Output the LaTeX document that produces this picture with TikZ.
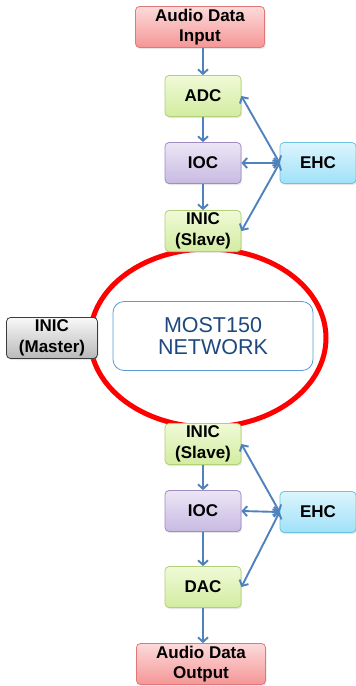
\documentclass[tikz,border=0pt]{standalone}
\usepackage{fontspec}
\setmainfont{Liberation Sans}
\usetikzlibrary{shadows,arrows.meta,shapes.geometric}
\definecolor{linkblue}{RGB}{79,129,189}
\definecolor{netblue}{RGB}{31,73,125}

\begin{document}
\begin{tikzpicture}[x=1pt,y=-1pt,
    box/.style={
      draw, rounded corners=4pt, line width=0.8pt,
      minimum width=76pt, minimum height=41pt, inner sep=0pt,
      align=center, font=\bfseries\fontsize{17}{20.5}\selectfont,
      drop shadow={opacity=0.2, shadow xshift=1pt, shadow yshift=-1.5pt},
    },
    audiobox/.style={box, minimum width=129pt, draw={rgb,255:red,225;green,120;blue,120},
      top color={rgb,255:red,252;green,218;blue,218}, bottom color={rgb,255:red,245;green,150;blue,150}},
    convbox/.style={box, draw={rgb,255:red,178;green,208;blue,120},
      top color={rgb,255:red,240;green,250;blue,215}, bottom color={rgb,255:red,210;green,236;blue,160}},
    iocbox/.style={box, draw={rgb,255:red,160;green,140;blue,195},
      top color={rgb,255:red,236;green,230;blue,246}, bottom color={rgb,255:red,200;green,186;blue,226}},
    ehcbox/.style={box, draw={rgb,255:red,110;green,195;blue,225},
      top color={rgb,255:red,220;green,245;blue,253}, bottom color={rgb,255:red,160;green,225;blue,248}},
    masterbox/.style={box, minimum width=91pt, draw={rgb,255:red,60;green,60;blue,60},
      top color={rgb,255:red,248;green,248;blue,248}, bottom color={rgb,255:red,185;green,185;blue,185}},
    link/.style={draw=linkblue, line width=1.9pt, -{Straight Barb[length=4.5pt,width=10pt]}},
    both/.style={link, {Straight Barb[length=4.5pt,width=10pt]}-{Straight Barb[length=4.5pt,width=10pt]}},
  ]
  \useasboundingbox (0,0) rectangle (356,686);

  % MOST150 ring
  \node[ellipse, draw=red, line width=5pt, minimum width=236pt, minimum height=178pt] (ring) at (208,338) {};
  \node[draw={rgb,255:red,91;green,155;blue,213}, line width=0.8pt, rounded corners=11pt, fill=white,
    minimum width=200pt, minimum height=69pt, align=center, text=netblue,
    font=\fontsize{21.5}{22.5}\selectfont] (net) at (213,336) {MOST150\\NETWORK};

  % source side
  \node[audiobox] (in) at (200,27) {Audio Data\\Input};
  \node[convbox] (adc) at (203,96) {ADC};
  \node[iocbox] (ioc1) at (203,163) {IOC};
  \node[convbox] (slave1) at (203,231) {INIC\\(Slave)};
  \node[ehcbox] (ehc1) at (318,163) {EHC};

  % master
  \node[masterbox] (master) at (52,338) {INIC\\(Master)};

  % sink side
  \node[convbox] (slave2) at (203,444) {INIC\\(Slave)};
  \node[iocbox] (ioc2) at (203,511) {IOC};
  \node[convbox] (dac) at (203,587) {DAC};
  \node[audiobox] (out) at (201,664) {Audio Data\\Output};
  \node[ehcbox] (ehc2) at (318,512) {EHC};

  % data flow
  \draw[link] (adc.north |- in.south) -- (adc.north);
  \foreach \a/\b in {adc/ioc1, ioc1/slave1, slave2/ioc2, ioc2/dac}
    \draw[link] (\a.south) -- (\b.north);
  \draw[link] (dac.south) -- (dac.south |- out.north);

  % control links
  \foreach \n in {adc, ioc1, slave1}
    \draw[both] (\n.east) -- (ehc1.west);
  \foreach \n in {slave2, ioc2, dac}
    \draw[both] (\n.east) -- (ehc2.west);
\end{tikzpicture}
\end{document}
